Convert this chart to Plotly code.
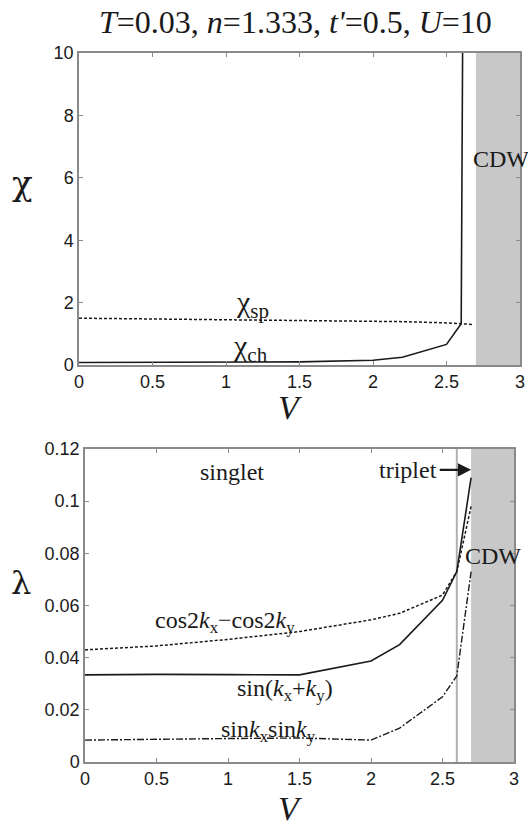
import plotly.graph_objects as go

# ---------------- data ----------------
title_text = "<i>T</i>=0.03, <i>n</i>=1.333, <i>t'</i>=0.5, <i>U</i>=10"

# top panel: susceptibilities vs V
V_ch = [0, 0.5, 1.0, 1.5, 2.0, 2.2, 2.5, 2.6, 2.61]
chi_ch = [0.08, 0.09, 0.1, 0.1, 0.15, 0.25, 0.66, 1.32, 10.5]
V_sp = [0, 0.5, 1.0, 1.5, 2.0, 2.2, 2.5, 2.6, 2.68]
chi_sp = [1.5, 1.48, 1.46, 1.44, 1.41, 1.39, 1.35, 1.32, 1.3]

# bottom panel: eigenvalues vs V
V_lam = [0, 0.5, 1.0, 1.5, 2.0, 2.2, 2.5, 2.6, 2.7]
lam_sin_sum = [0.0334, 0.0336, 0.0335, 0.0334, 0.0387, 0.045, 0.062, 0.073, 0.109]
lam_cos2 = [0.043, 0.0445, 0.047, 0.050, 0.0545, 0.057, 0.064, 0.073, 0.098]
lam_sinsin = [0.0084, 0.0088, 0.009, 0.0092, 0.0084, 0.013, 0.025, 0.033, 0.073]

cdw_start = 2.7
cdw_end = 3.0
triplet_V = 2.6

top_yticks = [0, 2, 4, 6, 8, 10]
bot_yticks = [0, 0.02, 0.04, 0.06, 0.08, 0.1, 0.12]
xticks = [0, 0.5, 1, 1.5, 2, 2.5, 3]

# ---------------- figure ----------------
W, H = 528, 827


def px(x):
    return x / W


def py(y):
    return 1 - y / H


serif = "Liberation Serif, Times New Roman, serif"
greek = "DejaVu Serif, serif"
sans = "Liberation Sans, Arial, Helvetica, sans-serif"
ink = "#1a1a1a"

fig = go.Figure()

fig.add_trace(go.Scatter(x=V_sp, y=chi_sp, mode="lines", xaxis="x", yaxis="y",
                         line=dict(color=ink, width=1.5, dash="3px,2px"), showlegend=False))
fig.add_trace(go.Scatter(x=V_ch, y=chi_ch, mode="lines", xaxis="x", yaxis="y",
                         line=dict(color=ink, width=1.6), showlegend=False))

fig.add_trace(go.Scatter(x=V_lam, y=lam_cos2, mode="lines", xaxis="x2", yaxis="y2",
                         line=dict(color=ink, width=1.5, dash="3px,2px"), showlegend=False))
fig.add_trace(go.Scatter(x=V_lam, y=lam_sin_sum, mode="lines", xaxis="x2", yaxis="y2",
                         line=dict(color=ink, width=1.6), showlegend=False))
fig.add_trace(go.Scatter(x=V_lam, y=lam_sinsin, mode="lines", xaxis="x2", yaxis="y2",
                         line=dict(color=ink, width=1.4, dash="7px,2px,2px,2px"), showlegend=False))

# CDW shading
fig.add_shape(type="rect", xref="x", yref="y domain", x0=cdw_start, x1=cdw_end, y0=0, y1=1,
              fillcolor="#c8c8c8", line=dict(width=0), layer="below")
fig.add_shape(type="rect", xref="x2", yref="y2 domain", x0=cdw_start, x1=cdw_end, y0=0, y1=1,
              fillcolor="#c8c8c8", line=dict(width=0), layer="below")
# triplet boundary line
fig.add_shape(type="line", xref="x2", yref="y2 domain", x0=triplet_V, x1=triplet_V, y0=0, y1=1,
              line=dict(color="#b0b0b0", width=2), layer="below")

axis_common = dict(showgrid=False, zeroline=False, showline=True, linecolor="#8a8a8a",
                   linewidth=1.5, mirror="ticks", ticks="inside", ticklen=4, tickcolor="#8a8a8a",
                   automargin=False,
                   tickfont=dict(family=sans, size=18, color=ink))

fig.update_layout(
    width=W, height=H,
    margin=dict(l=0, r=0, t=0, b=0),
    paper_bgcolor="white", plot_bgcolor="white",
    xaxis=dict(axis_common, domain=[px(79), px(520)], range=[0, 3], tickvals=xticks,
               anchor="y"),
    yaxis=dict(axis_common, domain=[py(365), py(53)], range=[0, 10], tickvals=top_yticks,
               anchor="x"),
    xaxis2=dict(axis_common, domain=[px(85), px(514)], range=[0, 3], tickvals=xticks,
                anchor="y2"),
    yaxis2=dict(axis_common, domain=[py(762), py(449)], range=[0, 0.12], tickvals=bot_yticks,
                anchor="x2"),
)

C = dict(xanchor="center", yanchor="middle", showarrow=False)
ann = []
# title
ann.append(dict(C, text=title_text, xref="paper", yref="paper", x=px(295), y=py(22),
                font=dict(family=serif, size=32, color=ink)))
# axis titles
ann.append(dict(C, text="χ", xref="paper", yref="paper", x=px(22), y=py(183),
                font=dict(family=greek, size=34, color=ink)))
ann.append(dict(C, text="<i>V</i>", xref="paper", yref="paper", x=px(290), y=py(407),
                font=dict(family=serif, size=34, color=ink)))
ann.append(dict(C, text="λ", xref="paper", yref="paper", x=px(21), y=py(583),
                font=dict(family=greek, size=32, color=ink)))
ann.append(dict(C, text="<i>V</i>", xref="paper", yref="paper", x=px(290), y=py(808),
                font=dict(family=serif, size=34, color=ink)))

# top panel labels
ann.append(dict(C, text="χ<sub>sp</sub>", xref="x", yref="y", x=1.18, y=1.95,
                font=dict(family=serif, size=30, color=ink)))
ann.append(dict(C, text="χ<sub>ch</sub>", xref="x", yref="y", x=1.17, y=0.55,
                font=dict(family=serif, size=30, color=ink)))
ann.append(dict(C, text="CDW", xref="x", yref="y", x=2.87, y=6.6,
                font=dict(family=serif, size=24, color=ink)))

# bottom panel labels
ann.append(dict(C, text="singlet", xref="x2", yref="y2", x=1.03, y=0.111,
                font=dict(family=serif, size=24, color=ink)))
ann.append(dict(C, text="triplet", xref="x2", yref="y2", x=2.26, y=0.112,
                font=dict(family=serif, size=24, color=ink)))
ann.append(dict(text="", xref="x2", yref="y2", x=2.70, y=0.112, ax=2.47, ay=0.112,
                axref="x2", ayref="y2", showarrow=True, arrowhead=2, arrowsize=1.2,
                arrowwidth=2.2, arrowcolor=ink))
ann.append(dict(C, text="CDW", xref="x2", yref="y2", x=2.85, y=0.079,
                font=dict(family=serif, size=24, color=ink)))
ann.append(dict(C, text="cos2<i>k</i><sub>x</sub>−cos2<i>k</i><sub>y</sub>", xref="x2",
                yref="y2", x=0.98, y=0.0535, font=dict(family=serif, size=24, color=ink)))
ann.append(dict(C, text="sin(<i>k</i><sub>x</sub>+<i>k</i><sub>y</sub>)", xref="x2", yref="y2",
                x=1.4, y=0.0275, font=dict(family=serif, size=24, color=ink)))
ann.append(dict(C, text="sin<i>k</i><sub>x</sub>sin<i>k</i><sub>y</sub>", xref="x2", yref="y2",
                x=1.28, y=0.0118, font=dict(family=serif, size=24, color=ink)))

fig.update_layout(annotations=ann)

fig.write_html(
    "out.html",
    config={"displayModeBar": False},
    post_script="document.body.style.margin='0';document.body.style.overflow='hidden';",
)
